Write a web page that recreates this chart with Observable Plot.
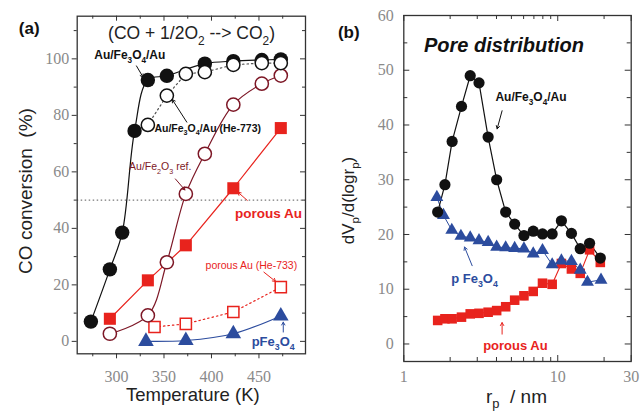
<!DOCTYPE html>
<html><head><meta charset="utf-8">
<script src="https://cdn.jsdelivr.net/npm/d3@7"></script>
<script src="https://cdn.jsdelivr.net/npm/@observablehq/plot@0.6"></script>
<style>
html,body{margin:0;padding:0;background:#fff;}
#wrap{position:relative;width:643px;height:413px;overflow:hidden;background:#fff;}
#wrap svg{position:absolute;top:0;}
</style></head><body><div id="wrap"></div>
<script>
// ---------- Panel (a): CO conversion vs temperature ----------
const tempAu = [273, 293, 306, 319, 333, 353, 393, 423, 453, 473];
const convAu = [7, 25.5, 38.5, 74.5, 92.5, 94, 98.3, 99.2, 99.6, 99.8];
const tempAuHe = [333, 353, 373, 393, 423, 453, 473];
const convAuHe = [76.6, 87, 94.7, 95.3, 97.9, 98.5, 98.5];
const tempRef = [293, 333, 353, 373, 393, 423, 453, 473];
const convRef = [2.7, 9.2, 28, 52.2, 66.4, 83.8, 91.2, 94.1];
const tempPor = [293, 333, 373, 423, 473];
const convPor = [8, 21.6, 34, 54.2, 75.5];
const tempPorHe = [340, 373, 423, 473];
const convPorHe = [5.1, 6.2, 10.4, 19.2];
const tempFe = [331, 373, 423, 473];
const convFe = [0, 0.3, 2.7, 9];
const tempTicks = [300, 350, 400, 450];
const tempMinor = [275, 325, 375, 425, 475];
const convTicks = [0, 20, 40, 60, 80, 100];
const convMinor = [10, 30, 50, 70, 90, 110];
const halfConversion = [50];

// ---------- Panel (b): pore distribution ----------
const rAu = [1.66, 1.85, 2.06, 2.37, 2.70, 3.08, 3.53, 4.01, 4.59, 5.25, 6.03, 6.93, 7.96, 9.2, 10.56, 12.27, 14.0, 16.1, 18.9];
const poreAu = [24.1, 29.1, 37, 43.4, 49, 47.7, 37.8, 30, 24.1, 21.9, 19.8, 20.6, 20.1, 20.1, 22.5, 20.2, 17.4, 18.4, 15.7];
const rFe = [1.64, 1.81, 2.05, 2.35, 2.70, 3.08, 3.53, 4.01, 4.59, 5.25, 6.03, 6.93, 7.96, 9.2, 10.56, 12.27, 14.0, 15.6, 19.1];
const poreFe = [26.8, 23.5, 20.8, 19.7, 19.4, 18.9, 18.6, 17.7, 17.6, 17.5, 17.4, 16.5, 17.1, 14.5, 15.2, 15.1, 13.5, 11.3, 11.7];
const rPor = [1.66, 1.85, 2.06, 2.37, 2.70, 3.08, 3.53, 4.01, 4.59, 5.25, 6.03, 6.93, 7.96, 9.2, 10.56, 12.27, 14.0, 16.1, 18.9];
const porePor = [4.3, 4.6, 4.6, 4.9, 5.5, 5.6, 5.8, 6.1, 6.8, 8.0, 8.8, 9.6, 11.1, 10.9, 14.7, 13.7, 12.9, 17.2, 14.9];
const rTicks = [1, 10, 30];
const rMinor = [2, 3, 4, 5, 6, 7, 8, 9, 20];
const poreTicks = [0, 10, 20, 30, 40, 50, 60];
const poreMinor = [5, 15, 25, 35, 45, 55];

// ---------- annotations (data coordinates) ----------
const annA = [
  {x: 314, y: 101.2, text: "Au/Fe_3O_4/Au", color: "#111", size: 12, weight: "bold"},
  {x: 396, y: 75.3, text: "Au/Fe_3O_4/Au (He-773)", color: "#111", size: 10.5, weight: "bold"},
  {x: 346, y: 61.7, text: "Au/Fe_2O_3 ref.", color: "#7d1726", size: 10.5, weight: "normal"},
  {x: 460, y: 45.2, text: "porous Au", color: "#e8231d", size: 13.5, weight: "bold"},
  {x: 442, y: 26.9, text: "porous Au (He-733)", color: "#e8231d", size: 10.5, weight: "normal"},
  {x: 465, y: -0.2, text: "pFe_3O_4", color: "#2c4c9e", size: 13, weight: "bold"}
];
const arrowsA = [
  {x1: 321, y1: 97.5, x2: 328, y2: 93.5, color: "#111"},
  {x1: 374, y1: 77.6, x2: 358.7, y2: 85.6, color: "#111"},
  {x1: 362, y1: 57.5, x2: 372, y2: 53.6, color: "#7d1726"},
  {x1: 437.7, y1: 49.9, x2: 427.8, y2: 52.8, color: "#e8231d"},
  {x1: 455.2, y1: 24.5, x2: 467.5, y2: 21.2, color: "#e8231d"},
  {x1: 475.6, y1: 3.3, x2: 475.6, y2: 6.8, color: "#2c4c9e"}
];
const reactionA = [{x: 379, y: 108.9, text: "(CO + 1/2O_2 --> CO_2)"}];

const annB = [
  {x: 6.7, y: 45.0, text: "Au/Fe_3O_4/Au", color: "#111", size: 12, weight: "bold"},
  {x: 2.88, y: 11.9, text: "p Fe_3O_4", color: "#2c4c9e", size: 13, weight: "bold"},
  {x: 5.31, y: -0.3, text: "porous Au", color: "#e8231d", size: 13, weight: "bold"}
];
const arrowsB = [
  {x1: 4.35, y1: 42.6, x2: 4.04, y2: 39.3, color: "#111"},
  {x1: 2.78, y1: 14.3, x2: 2.48, y2: 17.7, color: "#2c4c9e"},
  {x1: 4.35, y1: 1.8, x2: 4.35, y2: 3.9, color: "#e8231d"}
];
const titleB = [{x: 4.47, y: 54.5, text: "Pore distribution"}];

const zip = (xs, ys) => xs.map((x, i) => ({x, y: ys[i]}));

const BLACK = "#111", DARK = "#7d1726", RED = "#e8231d", BLUE = "#2c4c9e";
const TICKFONT = "'Liberation Serif', serif";
const SANS = "'Liberation Sans', Arial, sans-serif";

function annMarks(ann, arrows) {
  return [
    Plot.arrow(arrows, {x1: "x1", y1: "y1", x2: "x2", y2: "y2", stroke: d => d.color, strokeWidth: 1, headLength: 5}),
    ...ann.map(a => Plot.text([a], {x: "x", y: "y", text: "text", fill: a.color, fontSize: a.size,
      fontWeight: a.weight, fontFamily: SANS}))
  ];
}

// ---------- Panel (a) ----------
const FHa = 353.3 - 15.7;
const plotA = Plot.plot({
  width: 320, height: 413,
  marginLeft: 76.7, marginRight: 15, marginTop: 15.7, marginBottom: 59.7,
  x: {domain: [258.6, 499]},
  y: {domain: [-4.4, 115.1]},
  style: {fontFamily: SANS, background: "transparent", overflow: "visible"},
  marks: [
    Plot.ruleY(halfConversion, {stroke: "#555", strokeDasharray: "1.5,2.5", strokeWidth: 1}),
    // outward ticks + labels
    Plot.axisX({ticks: tempTicks, tickSize: 5, tickPadding: 12, stroke: "#333", fill: "#8a8a8a",
      fontSize: 16, fontFamily: TICKFONT, label: null}),
    Plot.axisX({ticks: tempMinor, tickSize: 3, stroke: "#333", fill: "none", label: null}),
    Plot.axisY({ticks: convTicks, tickSize: 5, tickPadding: 3, stroke: "#333", fill: "#8a8a8a",
      fontSize: 16, fontFamily: TICKFONT, label: null}),
    Plot.axisY({ticks: convMinor, tickSize: 3, stroke: "#333", fill: "none", label: null}),
    // inward ticks on top & right
    Plot.tickX(tempTicks, {x: d => d, insetBottom: FHa - 5, stroke: "#333"}),
    Plot.tickX(tempMinor, {x: d => d, insetBottom: FHa - 3, stroke: "#333"}),
    Plot.tickY(convTicks, {y: d => d, insetLeft: 228.3 - 5, stroke: "#333"}),
    Plot.tickY(convMinor, {y: d => d, insetLeft: 228.3 - 3, stroke: "#333"}),
    Plot.frame({stroke: "#333", strokeWidth: 1.3}),
    // lines
    Plot.line(zip(tempFe, convFe), {x: "x", y: "y", curve: "catmull-rom", stroke: BLUE, strokeWidth: 1.2}),
    Plot.line(zip(tempPorHe, convPorHe), {x: "x", y: "y", stroke: RED, strokeWidth: 1.2, strokeDasharray: "1.5,3"}),
    Plot.line(zip(tempPor, convPor), {x: "x", y: "y", stroke: RED, strokeWidth: 1.2}),
    Plot.line(zip(tempRef, convRef), {x: "x", y: "y", curve: "catmull-rom", stroke: DARK, strokeWidth: 1.2}),
    Plot.line(zip(tempAuHe, convAuHe), {x: "x", y: "y", stroke: "#555", strokeWidth: 1.2, strokeDasharray: "1.5,3"}),
    Plot.line(zip(tempAu, convAu), {x: "x", y: "y", curve: "catmull-rom", stroke: BLACK, strokeWidth: 1.2}),
    // markers
    Plot.dot(zip(tempFe, convFe), {x: "x", y: "y", symbol: "triangle", r: 5.8, fill: BLUE}),
    Plot.dot(zip(tempPorHe, convPorHe), {x: "x", y: "y", symbol: "square", r: 6.3, fill: "#fff", stroke: RED, strokeWidth: 1.5}),
    Plot.dot(zip(tempPor, convPor), {x: "x", y: "y", symbol: "square", r: 6.8, fill: RED}),
    Plot.dot(zip(tempRef, convRef), {x: "x", y: "y", r: 6.6, fill: "#fff", stroke: DARK, strokeWidth: 1.5}),
    Plot.dot(zip(tempAu, convAu), {x: "x", y: "y", r: 7.2, fill: BLACK}),
    Plot.dot(zip(tempAuHe, convAuHe), {x: "x", y: "y", r: 6.6, fill: "#fff", stroke: BLACK, strokeWidth: 1.5}),
    // annotations
    ...annMarks(annA, arrowsA),
    Plot.text(reactionA, {x: "x", y: "y", text: "text", fontSize: 17.5, fill: "#222", fontFamily: SANS}),
    // panel letter and axis titles
    Plot.text(["(a)"], {frameAnchor: "top-left", dx: -48, dy: 12.5, text: d => d, textAnchor: "middle",
      lineAnchor: "middle", fontSize: 17, fontWeight: "bold", fill: "#111", fontFamily: SANS}),
    Plot.text(["CO conversion  (%)"], {frameAnchor: "left", dx: -51, dy: 6, rotate: -90, text: d => d,
      textAnchor: "middle", lineAnchor: "middle", fontSize: 19, fill: "#222", fontFamily: SANS}),
    Plot.text(["Temperature (K)"], {frameAnchor: "bottom", dx: 1.5, dy: 41, text: d => d,
      textAnchor: "middle", lineAnchor: "middle", fontSize: 18.5, fill: "#222", fontFamily: SANS})
  ]
});

// ---------- Panel (b) ----------
const FHb = 361 - 15, FWb = 630.7 - 403.3;
const plotB = Plot.plot({
  width: 323, height: 413,
  marginLeft: 83.3, marginRight: 12.3, marginTop: 15, marginBottom: 52,
  x: {type: "log", domain: [1, 30]},
  y: {domain: [-3.2, 60]},
  style: {fontFamily: SANS, background: "transparent", overflow: "visible"},
  marks: [
    Plot.axisX({ticks: rTicks, tickSize: 0, tickPadding: 9, stroke: "none", fill: "#8a8a8a",
      fontSize: 16, fontFamily: TICKFONT, label: null, tickFormat: d => String(d)}),
    Plot.axisY({ticks: poreTicks, tickSize: 0, tickPadding: 10, stroke: "none", fill: "#8a8a8a",
      fontSize: 16, fontFamily: TICKFONT, label: null}),
    Plot.tickX(rTicks, {x: d => d, insetTop: FHb - 6, stroke: "#333"}),
    Plot.tickX(rMinor, {x: d => d, insetTop: FHb - 4, stroke: "#333"}),
    Plot.tickX(rTicks, {x: d => d, insetBottom: FHb - 6, stroke: "#333"}),
    Plot.tickX(rMinor, {x: d => d, insetBottom: FHb - 4, stroke: "#333"}),
    Plot.tickY(poreTicks, {y: d => d, insetRight: FWb - 6, stroke: "#333"}),
    Plot.tickY(poreMinor, {y: d => d, insetRight: FWb - 4, stroke: "#333"}),
    Plot.tickY(poreTicks, {y: d => d, insetLeft: FWb - 6, stroke: "#333"}),
    Plot.tickY(poreMinor, {y: d => d, insetLeft: FWb - 4, stroke: "#333"}),
    Plot.frame({stroke: "#333", strokeWidth: 1.3}),
    Plot.line(zip(rPor, porePor), {x: "x", y: "y", stroke: RED, strokeWidth: 1.1}),
    Plot.line(zip(rFe, poreFe), {x: "x", y: "y", stroke: BLUE, strokeWidth: 1}),
    Plot.line(zip(rAu, poreAu), {x: "x", y: "y", stroke: BLACK, strokeWidth: 1.2}),
    Plot.dot(zip(rPor, porePor), {x: "x", y: "y", symbol: "square", r: 5.4, fill: RED}),
    Plot.dot(zip(rFe, poreFe), {x: "x", y: "y", symbol: "triangle", r: 4.8, fill: BLUE}),
    Plot.dot(zip(rAu, poreAu), {x: "x", y: "y", r: 5.6, fill: BLACK}),
    ...annMarks(annB, arrowsB),
    Plot.text(titleB, {x: "x", y: "y", text: "text", fontSize: 20, fontWeight: "bold", fontStyle: "italic",
      fill: "#111", fontFamily: SANS}),
    Plot.text(["(b)"], {frameAnchor: "top-left", dx: -55, dy: 16.7, text: d => d, textAnchor: "middle",
      lineAnchor: "middle", fontSize: 17, fontWeight: "bold", fill: "#111", fontFamily: SANS}),
    Plot.text(["dV_p/d(logr_p)"], {frameAnchor: "left", dx: -55, dy: 12, rotate: -90, text: d => d,
      textAnchor: "middle", lineAnchor: "middle", fontSize: 17, fill: "#222", fontFamily: SANS}),
    Plot.text(["r_p  / nm"], {frameAnchor: "bottom", dx: -1, dy: 35, text: d => d,
      textAnchor: "middle", lineAnchor: "middle", fontSize: 19, fill: "#222", fontFamily: SANS})
  ]
});

// subscripts: "_x" -> lowered small tspan
function applySubs(svg) {
  svg.querySelectorAll("text").forEach(el => {
    [...el.childNodes].forEach(node => {
      if (node.nodeType !== 3 || !node.nodeValue.includes("_")) return;
      const fs = parseFloat(getComputedStyle(el).fontSize) || 12;
      const shift = 0.3 * fs;
      const parts = node.nodeValue.split(/_(\w)/);
      const ns = "http://www.w3.org/2000/svg";
      const frag = document.createDocumentFragment();
      let lowered = false;
      parts.forEach((p, i) => {
        if (p === "") return;
        const t = document.createElementNS(ns, "tspan");
        t.textContent = p;
        if (i % 2 === 1) {
          t.setAttribute("font-size", (fs * 0.68) + "px");
          if (!lowered) { t.setAttribute("dy", shift); lowered = true; }
        } else if (lowered) {
          t.setAttribute("dy", -shift); lowered = false;
        }
        frag.appendChild(t);
      });
      el.replaceChild(frag, node);
    });
  });
}

const wrap = document.getElementById("wrap");
plotA.style.left = "0px";
plotB.style.left = "320px";
wrap.appendChild(plotA);
wrap.appendChild(plotB);
applySubs(plotA);
applySubs(plotB);
</script>
</body></html>
